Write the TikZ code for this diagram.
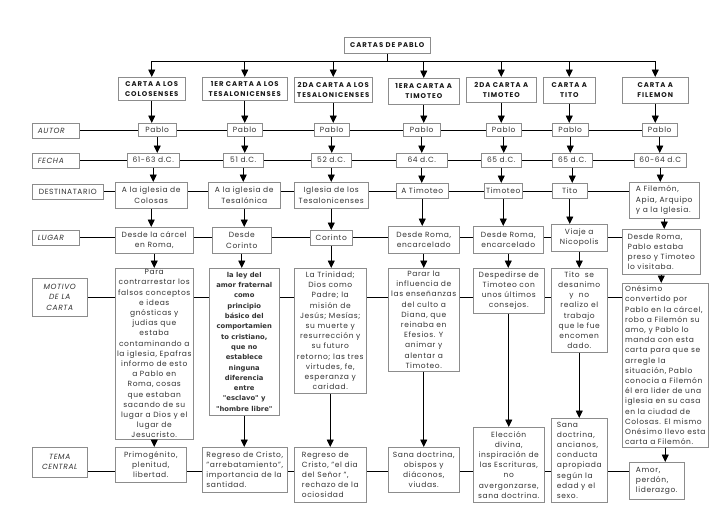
\documentclass[tikz,border=0pt]{standalone}
\usepackage{fontspec}
\setmainfont{Poppins}[LetterSpace=8]
\newfontfamily\verdanafont{DejaVu Sans}
\usepackage{tikz}
\usetikzlibrary{shadows,backgrounds}
\usetikzlibrary{arrows,arrows.meta}

\tikzset{
  box/.style={draw=black!45, fill=white, line width=0.5pt, inner sep=1pt,
    anchor=north west, align=center, text=black!80,
    font=\fontsize{7.5}{10.2}\selectfont,
    drop shadow={shadow xshift=0.8pt, shadow yshift=-0.8pt, opacity=0.7, fill=black!70}},
  head/.style={box, text=black!90, font=\fontsize{6.9}{9.8}\selectfont\bfseries\addfontfeatures{LetterSpace=14}},
  tag/.style={box, font=\fontsize{7.5}{10.2}\selectfont\itshape},
  arr/.style={line width=0.8pt, -{Triangle[width=7pt,length=7.5pt]}},
  row/.style={line width=0.8pt},
}

\begin{document}
\begin{tikzpicture}[x=1pt, y=-1pt]
    \useasboundingbox (0,0) rectangle (728,514);

    % title and letters
    \node[head, minimum width=86, minimum height=16] (top) at (344,37) {CARTAS DE PABLO};
    \node[head, minimum width=67, minimum height=23] (l1) at (118,77) {CARTA A LOS\\COLOSENSES};
    \node[head, minimum width=85, minimum height=23] (l2) at (202,77) {1ER CARTA A LOS\\TESALONICENSES};
    \node[head, minimum width=78, minimum height=25] (l3) at (294,77) {2DA CARTA A LOS\\TESALONICENSES};
    \node[head, minimum width=71, minimum height=26] (l4) at (388,78) {1ERA CARTA A\\TIMOTEO};
    \node[head, minimum width=70, minimum height=25] (l5) at (466,77) {2DA CARTA A\\TIMOTEO};
    \node[head, minimum width=52, minimum height=26] (l6) at (543,77) {CARTA A\\TITO};
    \node[head, minimum width=66, minimum height=26] (l7) at (622,77) {CARTA A\\FILEMON};

    % row labels
    \node[tag, minimum width=47, minimum height=15, align=left, text width=36] (autor) at (32,123) {AUTOR};
    \node[tag, minimum width=47, minimum height=15, align=left, text width=36] (fecha) at (32,153) {FECHA};
    \node[box, minimum width=71, minimum height=15] (dest) at (32,184) {DESTINATARIO};
    \node[tag, minimum width=47, minimum height=15, align=left, text width=36] (lugar) at (32,230) {LUGAR};
    \node[tag, minimum width=55, minimum height=38] (motivo) at (32,278) {MOTIVO\\DE LA\\CARTA};
    \node[tag, minimum width=55, minimum height=30] (tema) at (32,447) {TEMA\\CENTRAL};

    % autor
    \node[box, minimum width=38, minimum height=13] (p1) at (138,123) {Pablo};
    \node[box, minimum width=35, minimum height=13] (p2) at (227,123) {Pablo};
    \node[box, minimum width=35, minimum height=13] (p3) at (314,123) {Pablo};
    \node[box, minimum width=37, minimum height=13] (p4) at (403,123) {Pablo};
    \node[box, minimum width=35, minimum height=13] (p5) at (486,123) {Pablo};
    \node[box, minimum width=36, minimum height=13] (p6) at (552,123) {Pablo};
    \node[box, minimum width=35, minimum height=13] (p7) at (642,123) {Pablo};

    % fecha
    \node[box, minimum width=52, minimum height=14] (f1) at (127,153) {61-63 d.C.};
    \node[box, minimum width=40, minimum height=14] (f2) at (223,153) {51 d.C.};
    \node[box, minimum width=40, minimum height=14] (f3) at (311,153) {52 d.C.};
    \node[box, minimum width=51, minimum height=14] (f4) at (396,153) {64 d.C.};
    \node[box, minimum width=40, minimum height=14] (f5) at (481,153) {65 d.C.};
    \node[box, minimum width=40, minimum height=14] (f6) at (552,153) {65 d.C.};
    \node[box, minimum width=52, minimum height=14] (f7) at (634,153) {60-64 d.C};

    % destinatario
    \node[box, minimum width=72, minimum height=26] (d1) at (115,182) {A la iglesia de\\Colosas};
    \node[box, minimum width=72, minimum height=26] (d2) at (208,182) {A la iglesia de\\Tesalónica};
    \node[box, minimum width=74, minimum height=26] (d3) at (294,182) {Iglesia de los\\Tesalonicenses};
    \node[box, minimum width=52, minimum height=15] (d4) at (396,183) {A Timoteo};
    \node[box, minimum width=38, minimum height=15] (d5) at (484,183) {Timoteo};
    \node[box, minimum width=35, minimum height=15] (d6) at (552,183) {Tito};
    \node[box, minimum width=70, minimum height=36, align=left] (d7) at (629,182) {A Filemón,\\Apia, Arquipo\\y a la Iglesia.};

    % lugar
    \node[box, minimum width=78, minimum height=26] (g1) at (115,227) {Desde la cárcel\\en Roma,};
    \node[box, minimum width=59, minimum height=26] (g2) at (212,227) {Desde\\Corinto};
    \node[box, minimum width=42, minimum height=15] (g3) at (310,230) {Corinto};
    \node[box, minimum width=71, minimum height=27] (g4) at (388,226) {Desde Roma,\\encarcelado};
    \node[box, minimum width=70, minimum height=27] (g5) at (473,226) {Desde Roma,\\encarcelado};
    \node[box, minimum width=56, minimum height=27] (g6) at (551,224) {Viaje a\\Nicopolis};
    \node[box, minimum width=78, minimum height=45, align=left] (g7) at (622,229) {Desde Roma,\\Pablo estaba\\preso y Timoteo\\lo visitaba.};

    % motivo de la carta
    \node[box, minimum width=78, minimum height=171] (m1) at (115,268) {Para\\contrarrestar los\\falsos conceptos\\e ideas\\gnósticas y\\judias que\\estaba\\contaminando a\\la iglesia, Epafras\\informo de esto\\a Pablo en\\Roma, cosas\\que estaban\\sacando de su\\lugar a Dios y el\\lugar de\\Jesucristo.};
    \node[box, minimum width=70, minimum height=147, font=\verdanafont\bfseries\fontsize{6.8}{10.3}\selectfont] (m2) at (209,268) {la ley del\\amor fraternal\\como\\principio\\básico del\\comportamien\\to cristiano,\\que no\\establece\\ninguna\\diferencia\\entre\\"esclavo" y\\"hombre libre"};
    \node[box, minimum width=72, minimum height=125] (m3) at (294,268) {La Trinidad;\\Dios como\\Padre; la\\misión de\\Jesús; Mesías;\\su muerte y\\resurrección y\\su futuro\\retorno; las tres\\virtudes, fe,\\esperanza y\\caridad.};
    \node[box, minimum width=71, minimum height=103] (m4) at (388,268) {Parar la\\influencia de\\las enseñanzas\\del culto a\\Diana, que\\reinaba en\\Efesios. Y\\animar y\\alentar a\\Timoteo.};
    \node[box, minimum width=71, minimum height=45] (m5) at (473,268) {Despedirse de\\Timoteo con\\unos últimos\\consejos.};
    \node[box, minimum width=56, minimum height=84] (m6) at (551,268) {Tito\ \ se\\desanimo\\y\ \ no\\realizo el\\trabajo\\que le fue\\encomen\\dado.};
    \node[box, minimum width=86, minimum height=164, align=left] (m7) at (622,283) {Onésimo\\convertido por\\Pablo en la cárcel,\\robo a Filemón su\\amo, y Pablo lo\\manda con esta\\carta para que se\\arregle la\\situación, Pablo\\conocia a Filemón\\él era lider de una\\iglesia en su casa\\en la ciudad de\\Colosas. El mismo\\Onésimo llevo esta\\carta a Filemón.};

    % tema central
    \node[box, minimum width=71, minimum height=35] (t1) at (115,447) {Primogénito,\\plenitud,\\libertad.};
    \node[box, minimum width=85, minimum height=45, align=left] (t2) at (202,447) {Regreso de Cristo,\\"arrebatamiento",\\importancia de la\\santidad.};
    \node[box, minimum width=72, minimum height=55, align=left] (t3) at (294,447) {Regreso de\\Cristo, "el dia\\del Señor ",\\rechazo de la\\ociosidad};
    \node[box, minimum width=71, minimum height=45] (t4) at (388,447) {Sana doctrina,\\obispos y\\diáconos,\\viudas.};
    \node[box, minimum width=71, minimum height=75] (t5) at (473,427) {Elección\\divina,\\inspiración de\\las Escrituras,\\no\\avergonzarse,\\sana doctrina.};
    \node[box, minimum width=56, minimum height=84, align=left] (t6) at (551,418) {Sana\\doctrina,\\ancianos,\\conducta\\apropiada\\según la\\edad y el\\sexo.};
    \node[box, minimum width=55, minimum height=37, align=left] (t7) at (629,462) {Amor,\\perdón,\\liderazgo.};

    \begin{scope}[on background layer]
    % rows
    \draw[row] (autor.east) -- (autor.east -| p7.west);
    \draw[row] (fecha.east) -- (fecha.east -| f7.west);
    \draw[row] (dest.east) -- (dest.east -| d7.west);
    \draw[row] (lugar.east) -- (lugar.east -| g7.west);
    \draw[row] (motivo.east) -- (motivo.east -| m7.west);
    \draw[row] ([yshift=-9pt]tema.east) -- ([yshift=-9pt]tema.east -| t7.west);
    \end{scope}

    % from title to letters
    \coordinate (bus) at (383,61);
    \draw[row] (top.south) -- (top.south |- bus);
    \draw[row] (l1.north |- bus) -- (l7.north |- bus);
    \foreach \i in {1,...,7}
        \draw[arr] (l\i.north |- bus) -- (l\i.north);

    % columns
    \foreach \i in {1,...,7} {
        \draw[arr] (l\i.south) -- (l\i.south |- p\i.north);
        \draw[arr] (p\i.south) -- (p\i.south |- f\i.north);
        \draw[arr] (f\i.south) -- (f\i.south |- d\i.north);
        \draw[arr] (d\i.south) -- (d\i.south |- g\i.north);
        \draw[arr] (g\i.south) -- (g\i.south |- m\i.north);
        \draw[arr] (m\i.south) -- (m\i.south |- t\i.north);
    }

\end{tikzpicture}
\end{document}
